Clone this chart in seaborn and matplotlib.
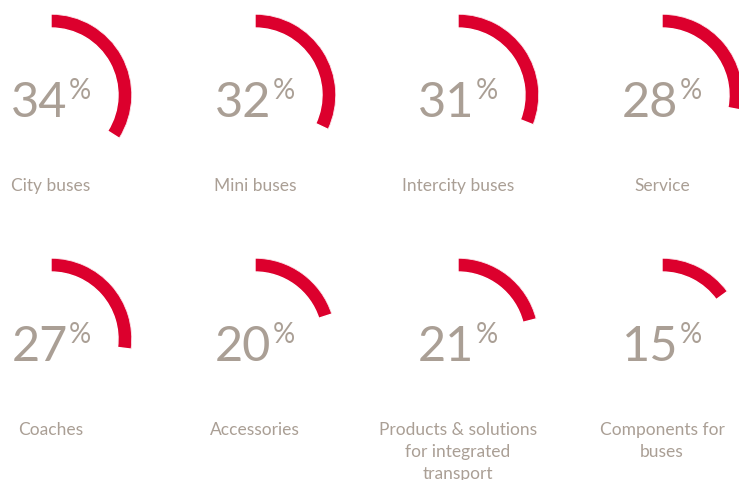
import numpy as np
import matplotlib
matplotlib.use("Agg")
import matplotlib.pyplot as plt
import seaborn as sns

# ---------------------------------------------------------
# data
# ---------------------------------------------------------
labels = [
    "City buses", "Mini buses", "Intercity buses", "Service",
    "Coaches", "Accessories", "Products & solutions\nfor integrated\ntransport",
    "Components for\nbuses",
]
shares = [34, 32, 31, 28, 27, 20, 21, 15]

RED = "#dc002d"
GREY = "#aa9f95"

sns.set_theme(style="white")
plt.rcParams["font.family"] = ["Lato", "DejaVu Sans"]

W, H = 739, 481
fig = plt.figure(figsize=(W / 100, H / 100), dpi=100)
fig.patch.set_facecolor("white")

col_x = [51, 255, 458, 662]
row_y = [96, 340]
R_OUT, R_IN = 81, 67


def fx(x):
    return x / W


def fy(y):
    return 1 - y / H


renderer = fig.canvas.get_renderer()

for i, (lab, val) in enumerate(zip(labels, shares)):
    cx = col_x[i % 4]
    cy = row_y[i // 4]

    # polar axes centred on the gauge
    ax = fig.add_axes([fx(cx - R_OUT), fy(cy + R_OUT), 2 * R_OUT / W, 2 * R_OUT / H],
                      projection="polar")
    ax.set_theta_zero_location("N")
    ax.set_theta_direction(-1)
    ax.set_ylim(0, R_OUT)
    ax.barh(y=(R_OUT + R_IN) / 2, width=2 * np.pi * val / 100, left=0,
            height=R_OUT - R_IN, color=RED, align="center")
    ax.set_axis_off()

    # percentage number + small % sign, centred as a group
    num = fig.text(fx(cx), fy(cy + 21), str(val), fontsize=35, color=GREY,
                   ha="left", va="baseline")
    pct = fig.text(fx(cx), fy(cy + 3), "%", fontsize=20, color=GREY,
                   ha="left", va="baseline")
    wn = num.get_window_extent(renderer).width
    wp = pct.get_window_extent(renderer).width
    gap = 1
    left = cx - (wn + gap + wp) / 2
    num.set_x(fx(left))
    pct.set_x(fx(left + wn + gap))

    fig.text(fx(cx), fy(cy + 82), lab, fontsize=12.5, color=GREY,
             ha="center", va="top", linespacing=1.45)

fig.savefig("out.png", dpi=100, facecolor="white")
